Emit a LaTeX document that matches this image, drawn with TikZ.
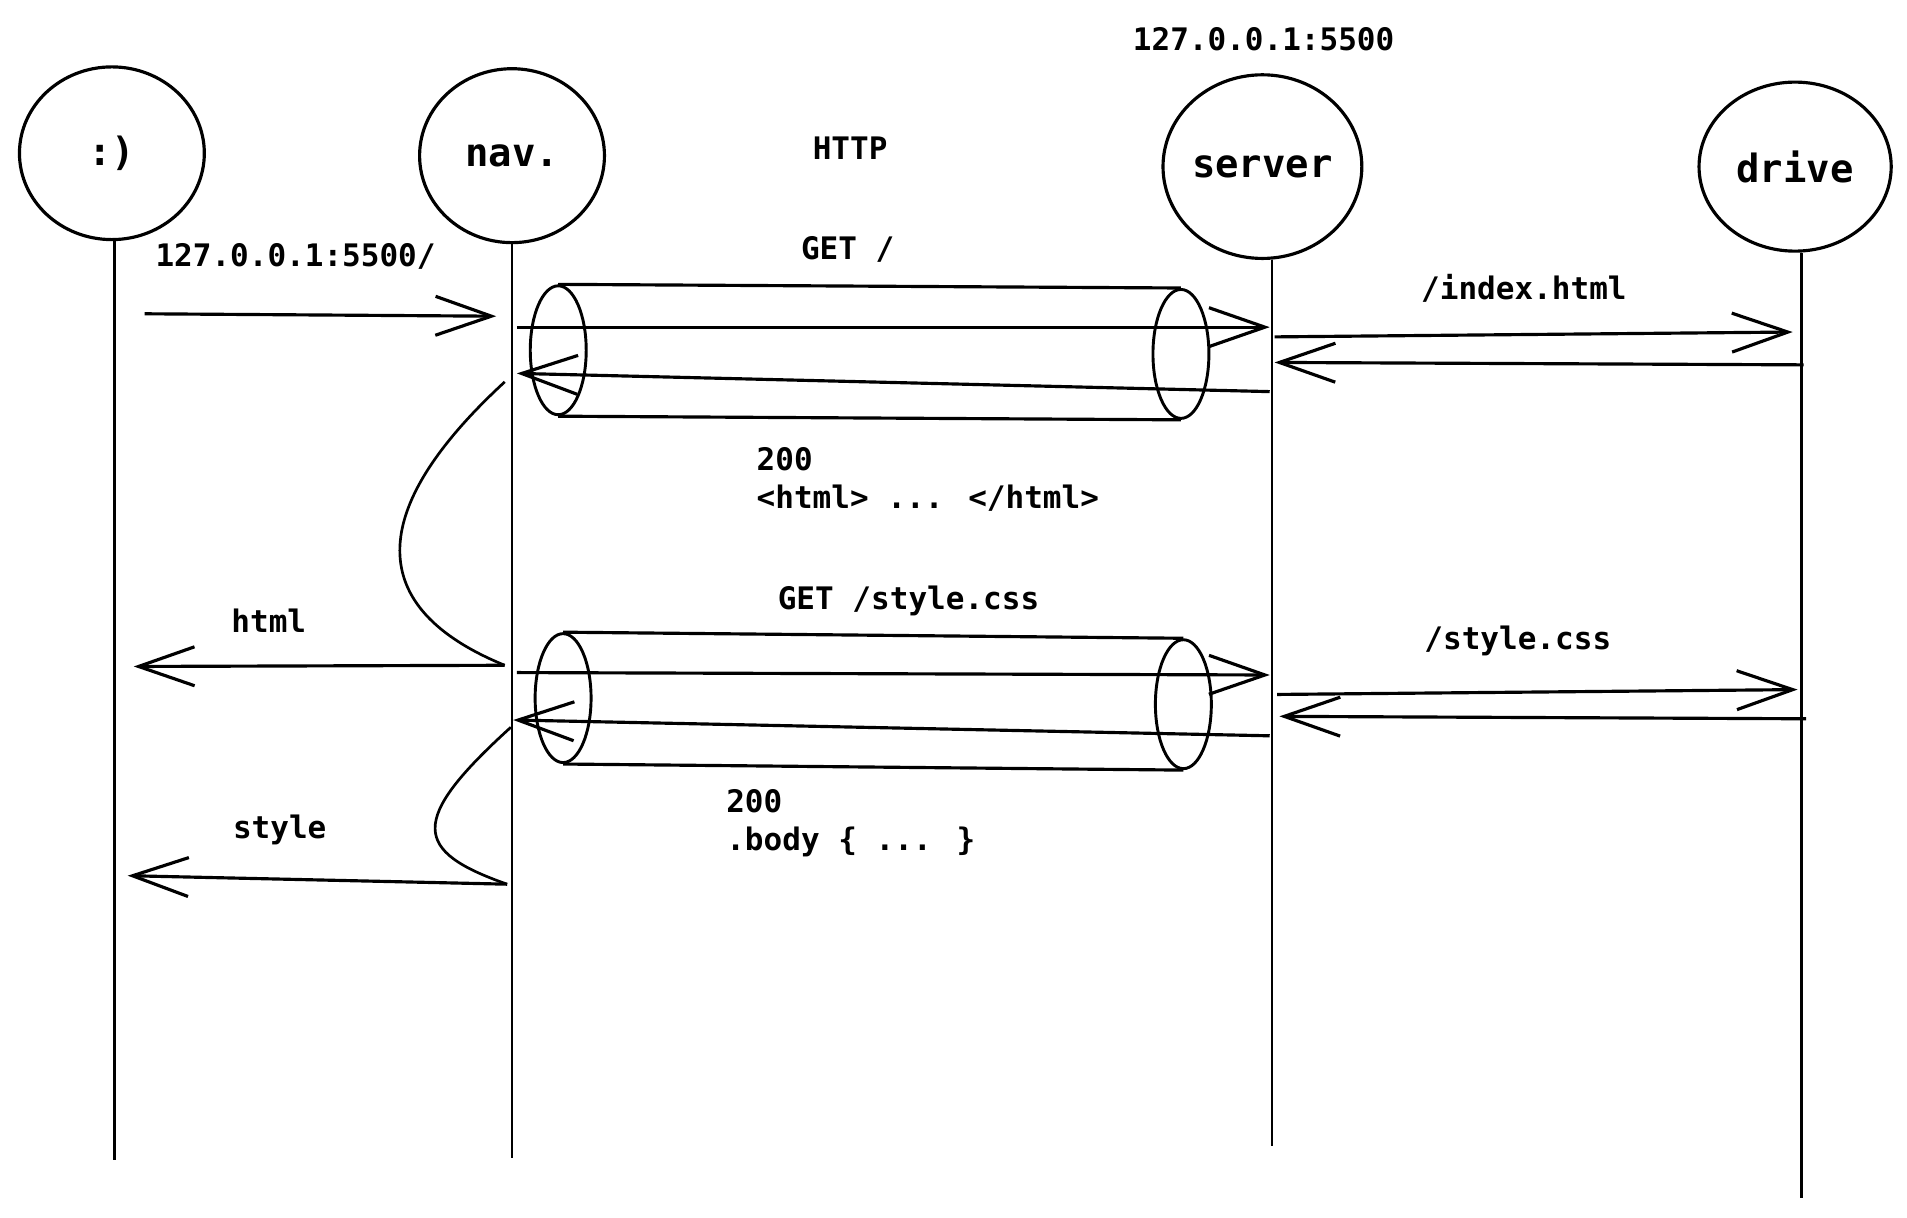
\documentclass[tikz,border=0pt]{standalone}
\usepackage{fontspec}
\setmainfont{DejaVu Sans Mono}
\usetikzlibrary{arrows.meta,shapes.geometric}
\tikzset{
  actor/.style={draw=black, ellipse, line width=2.6pt, inner sep=0pt, font=\fontsize{32}{38}\selectfont\bfseries},
  lifeline/.style={line width=2.2pt},
  tubeend/.style={draw=black, ellipse, line width=2.4pt, inner sep=0pt, minimum width=46pt, minimum height=106pt},
  tubeline/.style={line width=2.6pt},
  msg/.style={-{Straight Barb[length=46pt,width=32pt]}, line width=2.6pt},
  sweep/.style={line width=2.2pt},
  lbl/.style={font=\fontsize{25.5}{31}\selectfont\bfseries, inner sep=0pt, align=left}
}

\begin{document}
\begin{tikzpicture}[x=1pt,y=-1pt]
  \useasboundingbox (0,0) rectangle (1568,1001);

  % actors
  \node[actor, minimum width=152pt, minimum height=142pt] (smile) at (92,126) {:)};
  \node[actor, minimum width=152pt, minimum height=143pt] (nav) at (421,128) {nav.};
  \node[actor, minimum width=162pt, minimum height=151pt] (server) at (1038,137) {server};
  \node[actor, minimum width=158pt, minimum height=139pt] (drive) at (1476,137) {drive};

  \node[lbl] (host) at (1039,32) {127.0.0.1:5500};

  % lifelines
  \coordinate (smile-end) at (94,954);
  \coordinate (nav-end) at (421,952);
  \coordinate (server-end) at (1046,942);
  \coordinate (drive-end) at (1481,985);
  \foreach \a in {smile,nav,server,drive}
    \draw[lifeline] (\a.south -| \a-end) -- (\a-end);

  % the two HTTP tubes
  \foreach \n/\lx/\ly/\rx/\ry in {1/459/288/971/291, 2/463/574/973/579} {
    \node[tubeend] (tube\n-l) at (\lx,\ly) {};
    \node[tubeend] (tube\n-r) at (\rx,\ry) {};
    \draw[tubeline] (tube\n-l.north) -- (tube\n-r.north);
    \draw[tubeline] (tube\n-l.south) -- (tube\n-r.south);
  }

  % message ends
  \coordinate (url-a) at (119,258);   \coordinate (url-b) at (408,260);
  \coordinate (get1-a) at (425,269);  \coordinate (get1-b) at (1044,269);
  \coordinate (ok1-a) at (1044,322);  \coordinate (ok1-b) at (425,307);
  \coordinate (idx-a) at (1048,277);  \coordinate (idx-b) at (1474,273);
  \coordinate (idx-r) at (1483,300);  \coordinate (idx-s) at (1048,298);
  \coordinate (html-a) at (415,547);  \coordinate (html-b) at (110,548);
  \coordinate (get2-a) at (425,553);  \coordinate (get2-b) at (1044,555);
  \coordinate (ok2-a) at (1044,605);  \coordinate (ok2-b) at (422,592);
  \coordinate (css-a) at (1050,571);  \coordinate (css-b) at (1478,567);
  \coordinate (css-r) at (1485,591);  \coordinate (css-s) at (1052,589);
  \coordinate (sty-a) at (417,727);   \coordinate (sty-b) at (105,720);
  \coordinate (swp1) at (415,314);    \coordinate (swp2) at (420,598);

  \draw[msg] (url-a) -- (url-b);
  \draw[msg] (get1-a) -- (get1-b);
  \draw[msg] (ok1-a) -- (ok1-b);
  \draw[msg] (idx-a) -- (idx-b);
  \draw[msg] (idx-r) -- (idx-s);
  \draw[msg] (html-a) -- (html-b);
  \draw[msg] (get2-a) -- (get2-b);
  \draw[msg] (ok2-a) -- (ok2-b);
  \draw[msg] (css-a) -- (css-b);
  \draw[msg] (css-r) -- (css-s);
  \draw[msg] (sty-a) -- (sty-b);

  \draw[sweep] (swp1) .. controls (300,420) and (300,500) .. (html-a);
  \draw[sweep] (swp2) .. controls (335,675) and (340,700) .. (sty-a);

  % labels
  \node[lbl] (http) at (699,122) {HTTP};
  \node[lbl] (url) at (243,211) {127.0.0.1:5500/};
  \node[lbl] (get1) at (697,205) {GET /};
  \node[lbl] (idx) at (1253,237) {/index.html};
  \node[lbl, anchor=north west] (ok1) at (622,368) {200\\<html> ... </html>};
  \node[lbl] (get2) at (747,494) {GET /style.css};
  \node[lbl] (html) at (221,510) {html};
  \node[lbl] (css) at (1248,527) {/style.css};
  \node[lbl, anchor=north west] (ok2) at (597,649) {200\\.body \{ ... \}};
  \node[lbl] (sty) at (230,682) {style};
\end{tikzpicture}
\end{document}
